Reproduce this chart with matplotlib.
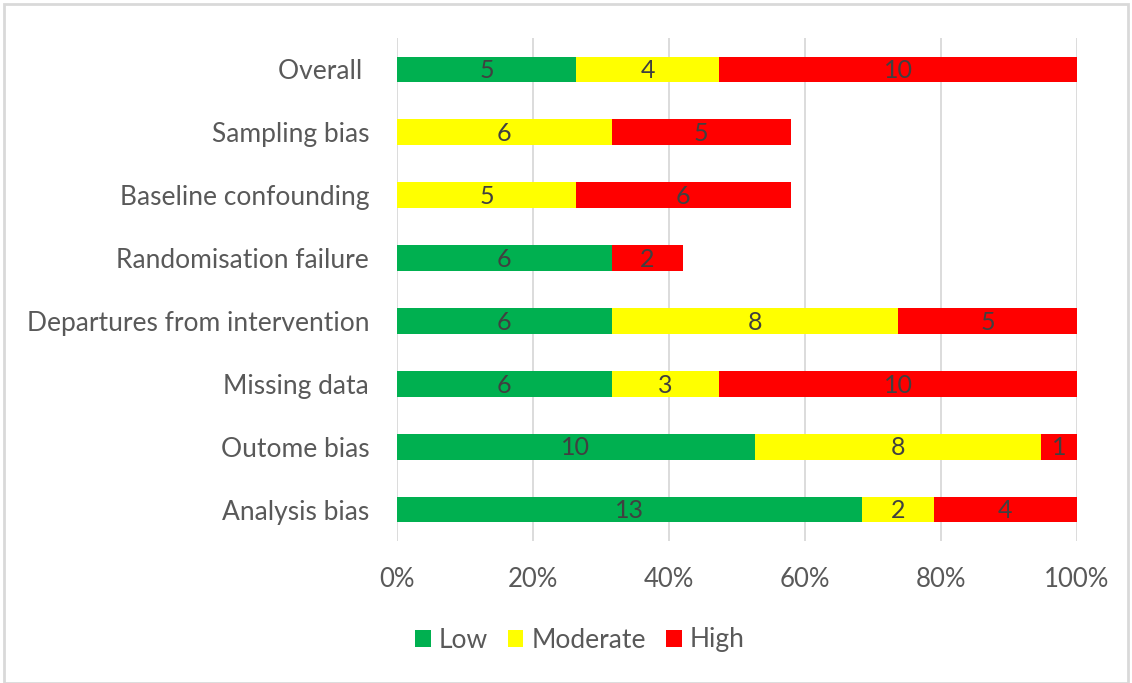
import numpy as np
import matplotlib
matplotlib.use('Agg')
import matplotlib.pyplot as plt
from matplotlib.patches import Rectangle

# Risk-of-bias domains (top to bottom) and number of studies per judgement
domains = ['Overall ', 'Sampling bias', 'Baseline confounding', 'Randomisation failure',
           'Departures from intervention', 'Missing data', 'Outome bias', 'Analysis bias']
low = [5, 0, 0, 6, 6, 6, 10, 13]
moderate = [4, 6, 5, 0, 8, 3, 8, 2]
high = [10, 5, 6, 2, 5, 10, 1, 4]
n_studies = 19

series = [('Low', low, '#00b050'), ('Moderate', moderate, '#ffff00'), ('High', high, '#ff0000')]

plt.rcParams['font.family'] = ['Lato', 'DejaVu Sans']
grey = '#595959'
fs = 18

fig = plt.figure(figsize=(11.32, 6.83), dpi=100)
ax = fig.add_axes([397 / 1132, 1 - 541 / 683, 680 / 1132, 503 / 683])

y = np.arange(len(domains))
left = np.zeros(len(domains))
for name, vals, col in series:
    vals = np.array(vals, dtype=float)
    w = vals / n_studies * 100
    bars = ax.barh(y, w, left=left, height=0.41, color=col, label=name, zorder=2)
    for b, v in zip(bars, vals):
        if v > 0:
            ax.text(b.get_x() + b.get_width() / 2, b.get_y() + b.get_height() / 2 + 0.02, f'{int(v)}',
                    ha='center', va='center', fontsize=fs, color='#404040', zorder=3)
    left += w

ax.set_xlim(0, 100)
ax.set_ylim(len(domains) - 0.5, -0.5)
ax.set_xticks(range(0, 101, 20))
ax.set_xticklabels([f'{t}%' for t in range(0, 101, 20)])
ax.set_yticks(y)
ax.set_yticklabels(domains)
ax.tick_params(axis='x', length=0, colors=grey, labelsize=18.5, pad=19)
ax.tick_params(axis='y', length=0, colors=grey, labelsize=19, pad=20)
ax.grid(axis='x', color='#d9d9d9', linewidth=1.3, zorder=0)
for s in ax.spines.values():
    s.set_visible(False)

fig.legend(loc='center', bbox_to_anchor=(0.512, 1 - 640 / 683), ncol=3, frameon=False,
           fontsize=19, labelcolor=grey, handlelength=0.6, handleheight=0.6,
           handletextpad=0.3, columnspacing=0.75)

# light frame round the whole chart area
fig.patches.append(Rectangle((4 / 1132, 0.0), 1 - 8 / 1132, 1 - 4 / 683, transform=fig.transFigure,
                             fill=False, edgecolor='#d9d9d9', linewidth=2))

fig.savefig('out.png', dpi=100)
